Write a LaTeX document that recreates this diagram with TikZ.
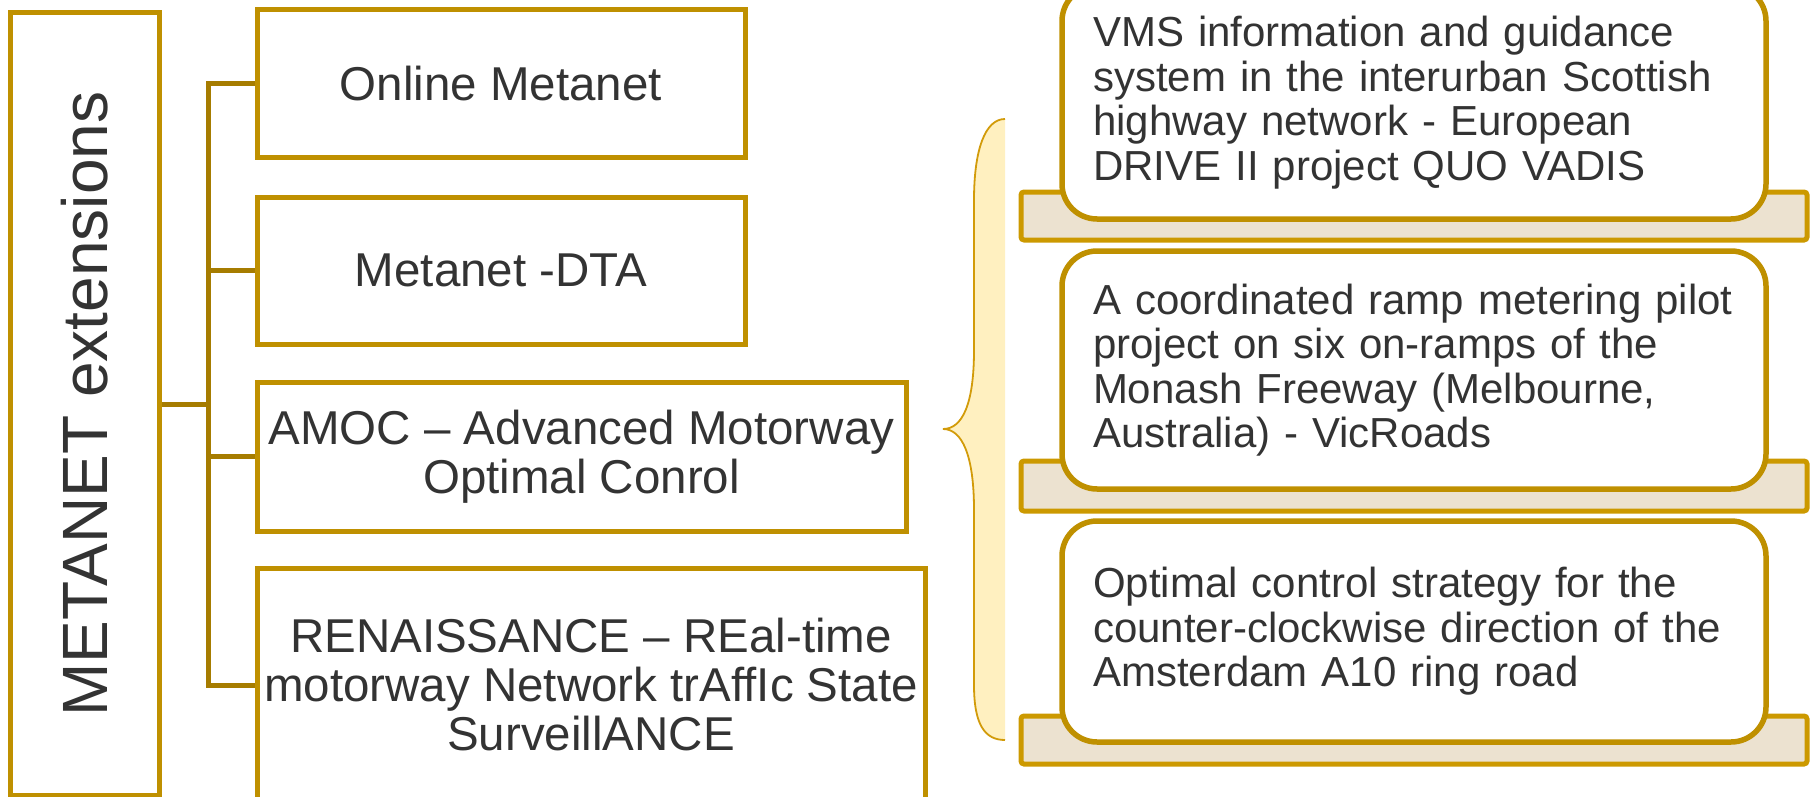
\documentclass[tikz,border=0pt]{standalone}
\usepackage{fontspec}
\setmainfont{Liberation Sans}
\definecolor{gold}{RGB}{191,144,0}
\definecolor{conncol}{RGB}{166,124,0}
\definecolor{tanborder}{RGB}{204,153,0}
\definecolor{tanfill}{RGB}{236,226,208}
\definecolor{bracefill}{RGB}{255,240,192}
\definecolor{bracestroke}{RGB}{210,155,10}
\definecolor{txt}{RGB}{51,51,51}
\begin{document}
\begin{tikzpicture}[x=1pt,y=-1pt,
  lbox/.style={draw=gold, line width=5pt, fill=white, inner sep=2pt, align=center, text=txt,
    font=\fontsize{47.5}{49}\selectfont},
  conn/.style={draw=conncol, line width=5pt},
  card/.style={draw=gold, line width=5.5pt, fill=white, rounded corners=35pt, inner xsep=31pt,
    inner ysep=0pt, align=left, text width=642pt, text=txt, font=\fontsize{42}{44.5}\selectfont},
  tanbar/.style={draw=tanborder, line width=5pt, fill=tanfill, rounded corners=3pt, minimum width=786pt},
  bigtext/.style={rotate=90, text=txt, font=\fontsize{64}{70}\selectfont, inner sep=0pt}
]
\useasboundingbox (0,0) rectangle (1810,797);

% left tree
\node[lbox, minimum width=149pt, minimum height=782pt] (meta) at (84.5,404) {};
\node[bigtext] (metat) at (meta.center) {METANET extensions};

\node[lbox, minimum width=488pt, minimum height=148pt] (online) at (501,84) {Online Metanet};
\node[lbox, minimum width=488pt, minimum height=147pt] (dta) at (501,270.5) {Metanet -DTA};
\node[lbox, minimum width=649pt, minimum height=149pt] (amoc) at (581.5,456.5) {AMOC – Advanced Motorway\\Optimal Conrol};
\node[lbox, minimum width=668pt, minimum height=234pt] (ren) at (591,685) {RENAISSANCE – REal-time\\motorway Network trAffIc State\\SurveillANCE};

\coordinate (trunk) at (208,404);
\draw[conn] (meta.east) -- (trunk);
\draw[conn] (online.west) -- (online.west -| trunk) -- (ren.west -| trunk) -- (ren.west);
\draw[conn] (dta.west) -- (dta.west -| trunk);
\draw[conn] (amoc.west) -- (amoc.west -| trunk);

% brace
\path[fill=bracefill, draw=bracestroke, line width=1.8pt]
  (1005,119) .. controls (985,119) and (974,150) .. (974,200)
  -- (974,350) .. controls (974,405) and (962,429) .. (943,429)
  .. controls (962,429) and (974,455) .. (974,510)
  -- (974,685) .. controls (974,725) and (985,740) .. (1005,740);

% cards
\node[tanbar, minimum height=48pt] (t1) at (1414,216) {};
\node[card, minimum height=233pt] (c1) at (1414,102.5)
  {VMS information and guidance\\system in the interurban Scottish\\highway network - European\\DRIVE II project QUO VADIS};

\node[tanbar, minimum height=50pt] (t2) at (1414,486) {};
\node[card, minimum height=238pt] (c2) at (1414,370)
  {A coordinated ramp metering pilot\\project on six on-ramps of the\\Monash Freeway (Melbourne,\\Australia) - VicRoads};

\node[tanbar, minimum height=48pt] (t3) at (1414,740) {};
\node[card, minimum height=221pt] (c3) at (1414,631.5)
  {Optimal control strategy for the\\counter-clockwise direction of the\\Amsterdam A10 ring road};
\end{tikzpicture}
\end{document}
